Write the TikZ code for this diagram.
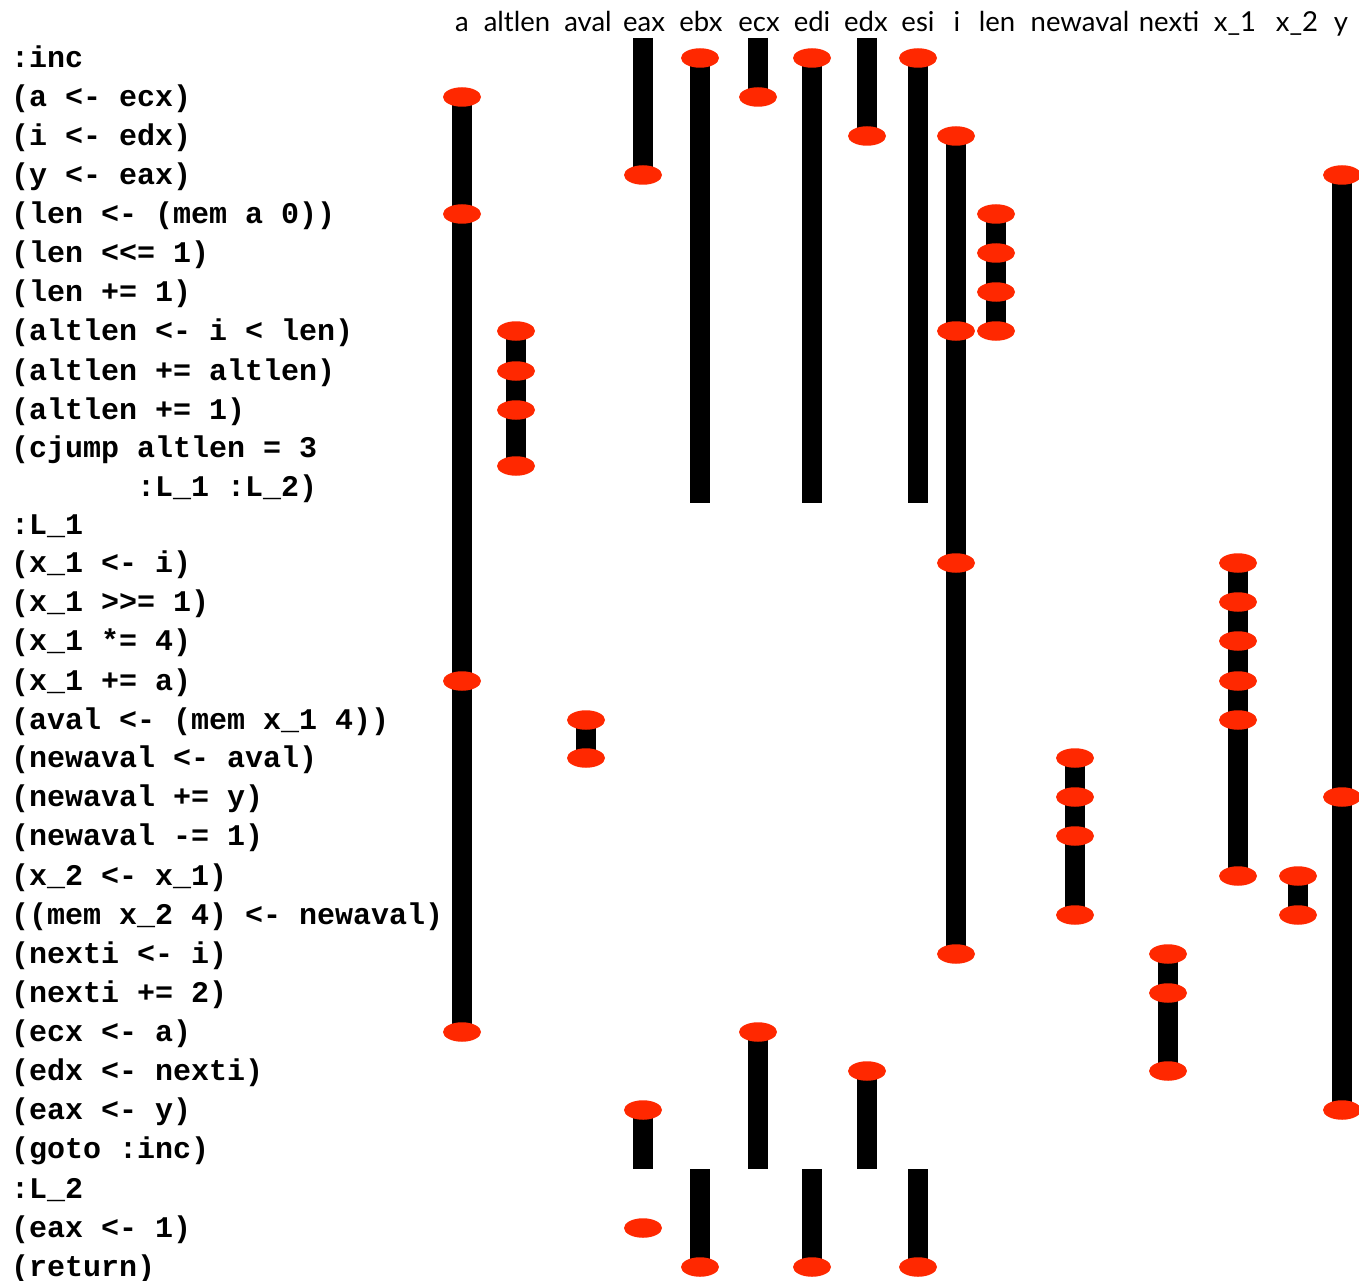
\documentclass[tikz,border=0pt]{standalone}
\usepackage{fontspec}
\newfontfamily\hdrfont{Lato}
\newfontfamily\codefont{Liberation Mono}
\usetikzlibrary{shapes.geometric}
\pgfdeclarelayer{bg}
\pgfsetlayers{bg,main}
\definecolor{dotred}{RGB}{255,40,0}
\tikzset{
  dot/.style={ellipse, fill=dotred, minimum width=38pt, minimum height=19.5pt, inner sep=0pt},
  bar/.style={line width=20pt, black},
  code/.style={anchor=base west, inner sep=0pt, xshift=4pt, yshift=-0.5pt, font=\codefont\bfseries\fontsize{30}{39}\selectfont},
  hdr/.style={anchor=base, inner sep=0pt, font=\hdrfont\fontsize{27.5}{30}\selectfont},
}
\begin{document}
\begin{tikzpicture}[x=1pt,y=-1pt]
\useasboundingbox (0,0) rectangle (1359,1281);
% header
\node[hdr] (h-a) at (462,32) {a};
\node[hdr] (h-altlen) at (517,32) {altlen};
\node[hdr] (h-aval) at (588,32) {aval};
\node[hdr] (h-eax) at (644,32) {eax};
\node[hdr] (h-ebx) at (701,32) {ebx};
\node[hdr] (h-ecx) at (759,32) {ecx};
\node[hdr] (h-edi) at (812,32) {edi};
\node[hdr] (h-edx) at (866,32) {edx};
\node[hdr] (h-esi) at (918,32) {esi};
\node[hdr] (h-i) at (957,32) {i};
\node[hdr] (h-len) at (997,32) {len};
\node[hdr] (h-newaval) at (1080,32) {newaval};
\node[hdr] (h-nexti) at (1169,32) {nexti};
\node[hdr] (h-x1) at (1235,32) {x\_1};
\node[hdr] (h-x2) at (1297,32) {x\_2};
\node[hdr] (h-y) at (1341,32) {y};
% code
\node[code] (t0) at (7,67) {:inc};
\node[code] (t1) at (7,106) {(a <- ecx)};
\node[code] (t2) at (7,145) {(i <- edx)};
\node[code] (t3) at (7,184) {(y <- eax)};
\node[code] (t4) at (7,223) {(len <- (mem a 0))};
\node[code] (t5) at (7,262) {(len <\kern0pt<= 1)};
\node[code] (t6) at (7,301) {(len += 1)};
\node[code] (t7) at (7,340) {(altlen <- i < len)};
\node[code] (t8) at (7,379.5) {(altlen += altlen)};
\node[code] (t9) at (7,418.5) {(altlen += 1)};
\node[code] (t10) at (7,457) {(cjump altlen = 3};
\node[code] (t11) at (7,495.5) {\phantom{(cjump }:L\_1 :L\_2)};
\node[code] (t12) at (7,533.5) {:L\_1};
\node[code] (t13) at (7,572) {(x\_1 <- i)};
\node[code] (t14) at (7,611) {(x\_1 >\kern0pt>= 1)};
\node[code] (t15) at (7,650) {(x\_1 *= 4)};
\node[code] (t16) at (7,690) {(x\_1 += a)};
\node[code] (t17) at (7,729) {(aval <- (mem x\_1 4))};
\node[code] (t18) at (7,767) {(newaval <- aval)};
\node[code] (t19) at (7,806) {(newaval += y)};
\node[code] (t20) at (7,845) {(newaval -= 1)};
\node[code] (t21) at (7,885) {(x\_2 <- x\_1)};
\node[code] (t22) at (7,924) {((mem x\_2 4) <- newaval)};
\node[code] (t23) at (7,963) {(nexti <- i)};
\node[code] (t24) at (7,1002) {(nexti += 2)};
\node[code] (t25) at (7,1041) {(ecx <- a)};
\node[code] (t26) at (7,1080) {(edx <- nexti)};
\node[code] (t27) at (7,1119) {(eax <- y)};
\node[code] (t28) at (7,1158) {(goto :inc)};
\node[code] (t29) at (7,1198) {:L\_2};
\node[code] (t30) at (7,1237) {(eax <- 1)};
\node[code] (t31) at (7,1276) {(return)};
% ellipses
\node[dot] (a1) at (462,97) {};
\node[dot] (a4) at (462,214) {};
\node[dot] (a16) at (462,681) {};
\node[dot] (a25) at (462,1032) {};
\node[dot] (al7) at (516,331) {};
\node[dot] (al8) at (516,371) {};
\node[dot] (al9) at (516,410) {};
\node[dot] (al10) at (516,466) {};
\node[dot] (av17) at (586,720) {};
\node[dot] (av18) at (586,758) {};
\coordinate (eaxtop) at (643,38);
\node[dot] (eax3) at (643,175) {};
\node[dot] (eax27) at (643,1110) {};
\coordinate (eaxL2) at (643,1169);
\node[dot] (eax30) at (643,1228) {};
\node[dot] (ebx0) at (700,58) {};
\coordinate (ebxend) at (700,503);
\coordinate (ebxL2) at (700,1169);
\node[dot] (ebx31) at (700,1267) {};
\coordinate (ecxtop) at (758,38);
\node[dot] (ecx1) at (758,97) {};
\node[dot] (ecx25) at (758,1032) {};
\coordinate (ecxL2) at (758,1169);
\node[dot] (edi0) at (812,58) {};
\coordinate (ediend) at (812,503);
\coordinate (ediL2) at (812,1169);
\node[dot] (edi31) at (812,1267) {};
\coordinate (edxtop) at (867,38);
\node[dot] (edx2) at (867,136) {};
\node[dot] (edx26) at (867,1071) {};
\coordinate (edxL2) at (867,1169);
\node[dot] (esi0) at (918,58) {};
\coordinate (esiend) at (918,503);
\coordinate (esiL2) at (918,1169);
\node[dot] (esi31) at (918,1267) {};
\node[dot] (i2) at (956,136) {};
\node[dot] (i7) at (956,331) {};
\node[dot] (i13) at (956,563) {};
\node[dot] (i23) at (956,954) {};
\node[dot] (len4) at (996,214) {};
\node[dot] (len5) at (996,253) {};
\node[dot] (len6) at (996,292) {};
\node[dot] (len7) at (996,331) {};
\node[dot] (nv18) at (1075,758) {};
\node[dot] (nv19) at (1075,797) {};
\node[dot] (nv20) at (1075,836) {};
\node[dot] (nv22) at (1075,915) {};
\node[dot] (nx23) at (1168,954) {};
\node[dot] (nx24) at (1168,993) {};
\node[dot] (nx26) at (1168,1071) {};
\node[dot] (xa13) at (1238,563) {};
\node[dot] (xa14) at (1238,602) {};
\node[dot] (xa15) at (1238,641) {};
\node[dot] (xa16) at (1238,681) {};
\node[dot] (xa17) at (1238,720) {};
\node[dot] (xa21) at (1238,876) {};
\node[dot] (xb21) at (1298,876) {};
\node[dot] (xb22) at (1298,915) {};
\node[dot] (y3) at (1342,175) {};
\node[dot] (y19) at (1342,797) {};
\node[dot] (y27) at (1342,1110) {};
% bars
\begin{pgfonlayer}{bg}
\draw[bar] (a1.center) -- (a25.center);
\draw[bar] (al7.center) -- (al10.center);
\draw[bar] (av17.center) -- (av18.center);
\draw[bar] (eaxtop) -- (eax3.center);
\draw[bar] (eax27.center) -- (eaxL2);
\draw[bar] (ebx0.center) -- (ebxend);
\draw[bar] (ebxL2) -- (ebx31.center);
\draw[bar] (ecxtop) -- (ecx1.center);
\draw[bar] (ecx25.center) -- (ecxL2);
\draw[bar] (edi0.center) -- (ediend);
\draw[bar] (ediL2) -- (edi31.center);
\draw[bar] (edxtop) -- (edx2.center);
\draw[bar] (edx26.center) -- (edxL2);
\draw[bar] (esi0.center) -- (esiend);
\draw[bar] (esiL2) -- (esi31.center);
\draw[bar] (i2.center) -- (i23.center);
\draw[bar] (len4.center) -- (len7.center);
\draw[bar] (nv18.center) -- (nv22.center);
\draw[bar] (nx23.center) -- (nx26.center);
\draw[bar] (xa13.center) -- (xa21.center);
\draw[bar] (xb21.center) -- (xb22.center);
\draw[bar] (y3.center) -- (y27.center);
\end{pgfonlayer}
\end{tikzpicture}
\end{document}
